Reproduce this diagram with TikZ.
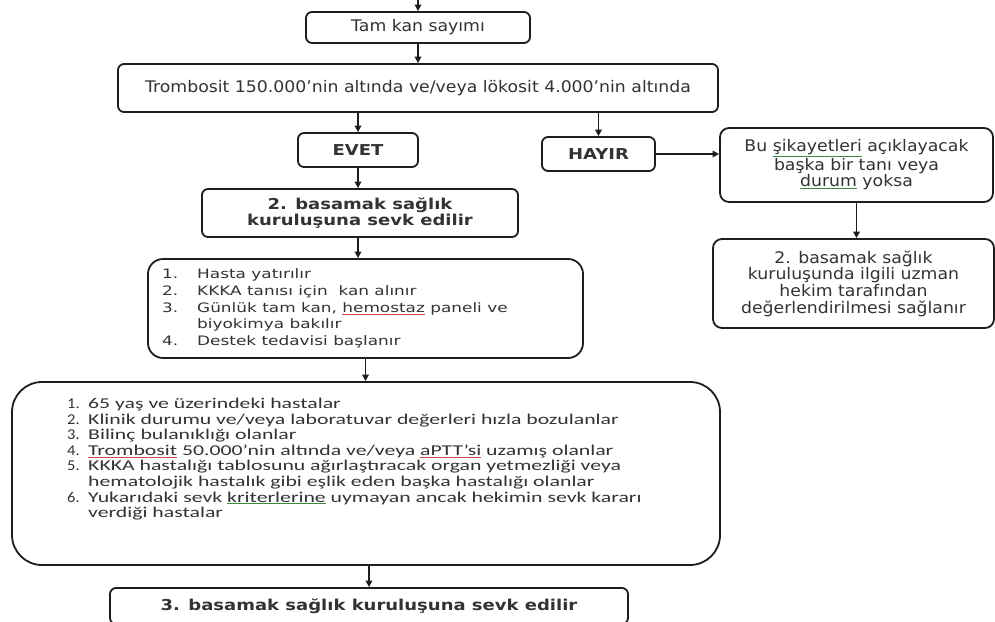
\documentclass[tikz,border=0pt]{standalone}
\usepackage{fontspec}
\usepackage{array}
\setmainfont{DejaVu Sans}[FakeStretch=1.08]
\newfontfamily\bfam{DejaVu Sans}[FakeStretch=1.2]
\newfontfamily\tfam{DejaVu Sans}[FakeStretch=1.3]
\newfontfamily\cfam{Carlito}[FakeStretch=1.45]
\newfontfamily\cnum{Carlito}[FakeStretch=1.1]
\usetikzlibrary{arrows.meta}
\definecolor{txt}{HTML}{333333}
\definecolor{ln}{HTML}{1E1E1E}
\definecolor{sqred}{HTML}{D04848}
\definecolor{sqgrn}{HTML}{3A8A3A}
\newcommand{\uln}[2]{\textcolor{#1}{\underline{\textcolor{txt}{#2}}}}
\newcommand{\mainsz}{\fontsize{16}{16.6}\selectfont}
\newcommand{\boldsz}{\bfam\bfseries\fontsize{15}{15.5}\selectfont}
\tikzset{
  box/.style={draw=ln, line width=1.8pt, rounded corners=6pt, inner sep=0pt,
    align=center, text=txt, fill=white},
  arr/.style={-{Triangle[length=6.5pt,width=6.5pt]}, line width=1.7pt, draw=ln},
  plain/.style={inner sep=0pt, text=txt, anchor=north west}
}
\begin{document}
\begin{tikzpicture}[x=1pt,y=-1pt]
\useasboundingbox (0,0) rectangle (995,621);
\clip (0,0) rectangle (995,621);
\fill[white] (0,0) rectangle (995,621);

% main column
\node[box, minimum width=224pt, minimum height=31pt, font=\mainsz] (tam) at (418,27.5) {Tam kan sayımı};
\node[box, minimum width=600pt, minimum height=48pt, font=\mainsz] (trom) at (418,88)
  {Trombosit 150.000’nin altında ve/veya lökosit 4.000’nin altında};
\node[box, minimum width=120pt, minimum height=34pt, font=\boldsz] (evet) at (358,150) {EVET};
\node[box, minimum width=316pt, minimum height=48pt, font=\boldsz] (b2) at (360,213)
  {2. basamak sağlık\\kuruluşuna sevk edilir};
\node[box, rounded corners=15pt, minimum width=435pt, minimum height=99pt] (hasta) at (365.5,308.5) {};
\node[plain, font=\tfam\fontsize{13}{16.75}\selectfont] (hastatxt) at (162,266.8)
  {\begin{tabular}{@{}p{35pt}@{}l@{}}
   1. & Hasta yatırılır\\
   2. & KKKA tanısı için\ \ kan alınır\\
   3. & Günlük tam kan, \uln{sqred}{hemostaz} paneli ve\\
      & biyokimya bakılır\\
   4. & Destek tedavisi başlanır
   \end{tabular}};
\node[box, rounded corners=30pt, minimum width=708pt, minimum height=183pt] (biglist) at (366,473.5) {};
\node[plain, font=\cfam\fontsize{15}{15.57}\selectfont] (listtxt) at (67,397.6)
  {\begin{tabular}{@{}>{\cnum}p{21pt}@{}l@{}}
   1. & 65 yaş ve üzerindeki hastalar\\
   2. & Klinik durumu ve/veya laboratuvar değerleri hızla bozulanlar\\
   3. & Bilinç bulanıklığı\ olanlar\\
   4. & \uln{sqred}{Trombosit} 50.000’nin altında\ ve/veya \uln{sqred}{aPTT’si} uzamış olanlar\\
   5. & KKKA hastalığı tablosunu ağırlaştıracak organ yetmezliği veya\\
      & hematolojik hastalık gibi eşlik eden\ başka hastalığı olanlar\\
   6. & Yukarıdaki sevk \uln{sqgrn}{kriterlerine} uymayan ancak hekimin sevk kararı\\
      & verdiği hastalar
   \end{tabular}};
\node[box, minimum width=518pt, minimum height=36pt, font=\boldsz] (b3) at (369,606)
  {3. basamak sağlık kuruluşuna sevk edilir};

% right column
\node[box, minimum width=113pt, minimum height=34pt, font=\boldsz] (hayir) at (598.5,154) {HAYIR};
\node[box, rounded corners=9pt, minimum width=273pt, minimum height=74pt, font=\mainsz] (bu) at (856.5,165)
  {Bu \uln{sqgrn}{şikayetleri} açıklayacak\\başka bir tanı veya\\\uln{sqgrn}{durum} yoksa};
\node[box, rounded corners=9pt, minimum width=281pt, minimum height=89pt, font=\mainsz] (rr) at (853.5,283.5)
  {2. basamak sağlık\\kuruluşunda ilgili uzman\\hekim tarafından\\değerlendirilmesi sağlanır};

% connectors
\coordinate (in) at (418,-4);
\draw[arr] (in) -- (tam.north);
\draw[arr] (tam.south) -- (trom.north);
\draw[arr] (evet.north |- trom.south) -- (evet.north);
\draw[arr] (evet.south) -- (evet.south |- b2.north);
\draw[arr] (evet.south |- b2.south) -- (evet.south |- hasta.north);
\draw[arr] (hasta.south) -- (hasta.south |- biglist.north);
\draw[arr] (b3.north |- biglist.south) -- (b3.north);
\draw[arr] (hayir.north |- trom.south) -- (hayir.north);
\draw[arr] (hayir.east) -- (hayir.east -| bu.west);
\draw[arr] (bu.south) -- (bu.south |- rr.north);
\end{tikzpicture}
\end{document}
